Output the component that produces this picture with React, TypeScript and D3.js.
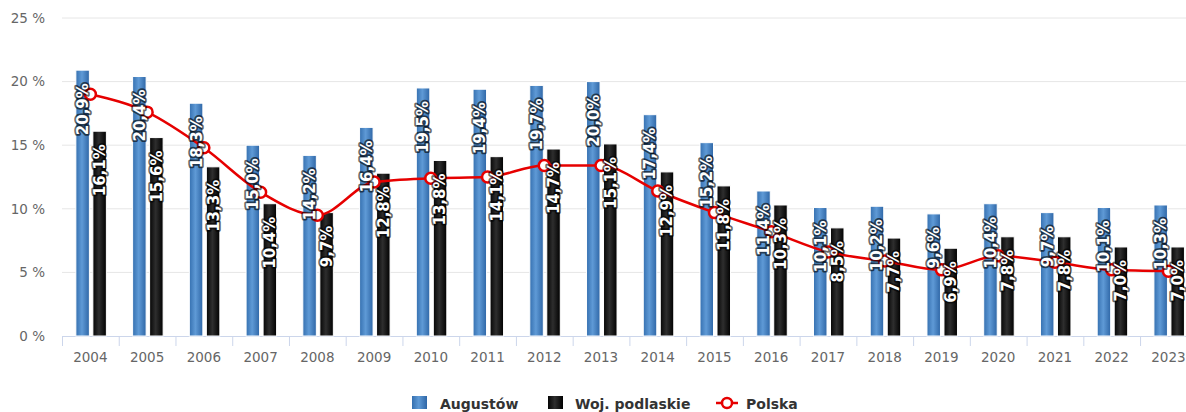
import React from 'react';
import * as d3 from 'd3';

const years = ['2004', '2005', '2006', '2007', '2008', '2009', '2010', '2011', '2012', '2013',
  '2014', '2015', '2016', '2017', '2018', '2019', '2020', '2021', '2022', '2023'];
const augustow = [20.9, 20.4, 18.3, 15.0, 14.2, 16.4, 19.5, 19.4, 19.7, 20.0,
  17.4, 15.2, 11.4, 10.1, 10.2, 9.6, 10.4, 9.7, 10.1, 10.3];
const podlaskie = [16.1, 15.6, 13.3, 10.4, 9.7, 12.8, 13.8, 14.1, 14.7, 15.1,
  12.9, 11.8, 10.3, 8.5, 7.7, 6.9, 7.8, 7.8, 7.0, 7.0];
const polska = [19.0, 17.6, 14.8, 11.3, 9.5, 12.1, 12.4, 12.5, 13.4, 13.4,
  11.4, 9.7, 8.2, 6.6, 5.9, 5.2, 6.3, 5.8, 5.2, 5.1];
const yTicks = [0, 5, 10, 15, 20, 25];

const W = 1186;
const H = 412;
const fmt = (v: number) => v.toFixed(1).replace('.', ',') + '%';

const App = () => {
  const x = d3.scaleBand().domain(years).range([62, 62 + 20 * 56.74]).padding(0);
  const y = d3.scaleLinear().domain([0, 25]).range([336, 18]);
  const bw = x.bandwidth();
  const cx = (i: number) => (x(years[i]) as number) + bw / 2;
  const line = d3.line<number>()
    .x((d, i) => cx(i))
    .y(d => y(d))
    .curve(d3.curveMonotoneX);

  // rotated labels, white with a dark outline, drawn above everything like the original
  const label = (v: number, px: number, key: string) => (
    <text
      key={key}
      transform={`translate(${px},${y(v) + 13}) rotate(-90)`}
      textAnchor="end"
      dy="0.36em"
      style={{
        font: 'bold 15px "DejaVu Sans"', fill: '#fff', stroke: 'rgba(0,0,0,0.6)',
        strokeWidth: 3.5, paintOrder: 'stroke', strokeLinejoin: 'round',
      }}
    >{fmt(v)}</text>
  );

  return (
    <svg width={W} height={H} style={{ position: 'absolute', left: 0, top: 0, background: '#fff' }}
      fontFamily='"DejaVu Sans", sans-serif'>
      <defs>
        <linearGradient id="gBlue" x1="0" x2="1" y1="0" y2="0">
          <stop offset="0" stopColor="#3570b0" />
          <stop offset="0.45" stopColor="#5f9ad6" />
          <stop offset="1" stopColor="#2e66a6" />
        </linearGradient>
        <linearGradient id="gBlack" x1="0" x2="1" y1="0" y2="0">
          <stop offset="0" stopColor="#050505" />
          <stop offset="0.45" stopColor="#2e2e2e" />
          <stop offset="1" stopColor="#000" />
        </linearGradient>
      </defs>

      {yTicks.map(t => (
        <g key={t}>
          {t > 0 && <line x1={62} x2={W} y1={y(t)} y2={y(t)} stroke="#e6e6e6" strokeWidth={1} />}
          <text x={45} y={y(t)} dy="0.35em" textAnchor="end" fontSize={13.5} fill="#666">{`${t} %`}</text>
        </g>
      ))}

      <line x1={62} x2={W} y1={336.5} y2={336.5} stroke="#ccd6eb" />
      {years.map((yr, i) => (
        <g key={yr}>
          <line x1={(x(yr) as number) + 0.5} x2={(x(yr) as number) + 0.5} y1={336} y2={346} stroke="#ccd6eb" />
          <text x={cx(i)} y={362} textAnchor="middle" fontSize={13.5} fill="#666">{yr}</text>
        </g>
      ))}

      {years.map((yr, i) => (
        <g key={`b${yr}`}>
          <rect x={cx(i) - 14.5} y={y(augustow[i])} width={13.5} height={336 - y(augustow[i])}
            fill="url(#gBlue)" stroke="#fff" strokeWidth={1} />
          <rect x={cx(i) + 2.5} y={y(podlaskie[i])} width={13.5} height={336 - y(podlaskie[i])}
            fill="url(#gBlack)" stroke="#fff" strokeWidth={1} />
        </g>
      ))}

      <path d={line(polska) || ''} fill="none" stroke="#e60000" strokeWidth={2.5} />
      {polska.map((v, i) => (
        <circle key={`m${i}`} cx={cx(i)} cy={y(v)} r={5.5} fill="#fff" stroke="#e60000" strokeWidth={2.5} />
      ))}

      {years.map((yr, i) => label(augustow[i], cx(i) - 7.75, `la${yr}`))}
      {years.map((yr, i) => label(podlaskie[i], cx(i) + 9.25, `lp${yr}`))}

      <g fontSize={14} fontWeight="bold" fill="#333">
        <rect x={412} y={396} width={15} height={13} fill="url(#gBlue)" />
        <text x={440} y={409}>Augustów</text>
        <rect x={548} y={396} width={15} height={13} fill="url(#gBlack)" />
        <text x={575} y={409}>Woj. podlaskie</text>
        <line x1={716} x2={738} y1={403} y2={403} stroke="#e60000" strokeWidth={2.5} />
        <circle cx={727} cy={403} r={5} fill="#fff" stroke="#e60000" strokeWidth={2.5} />
        <text x={746} y={409}>Polska</text>
      </g>
    </svg>
  );
};

export default App;
